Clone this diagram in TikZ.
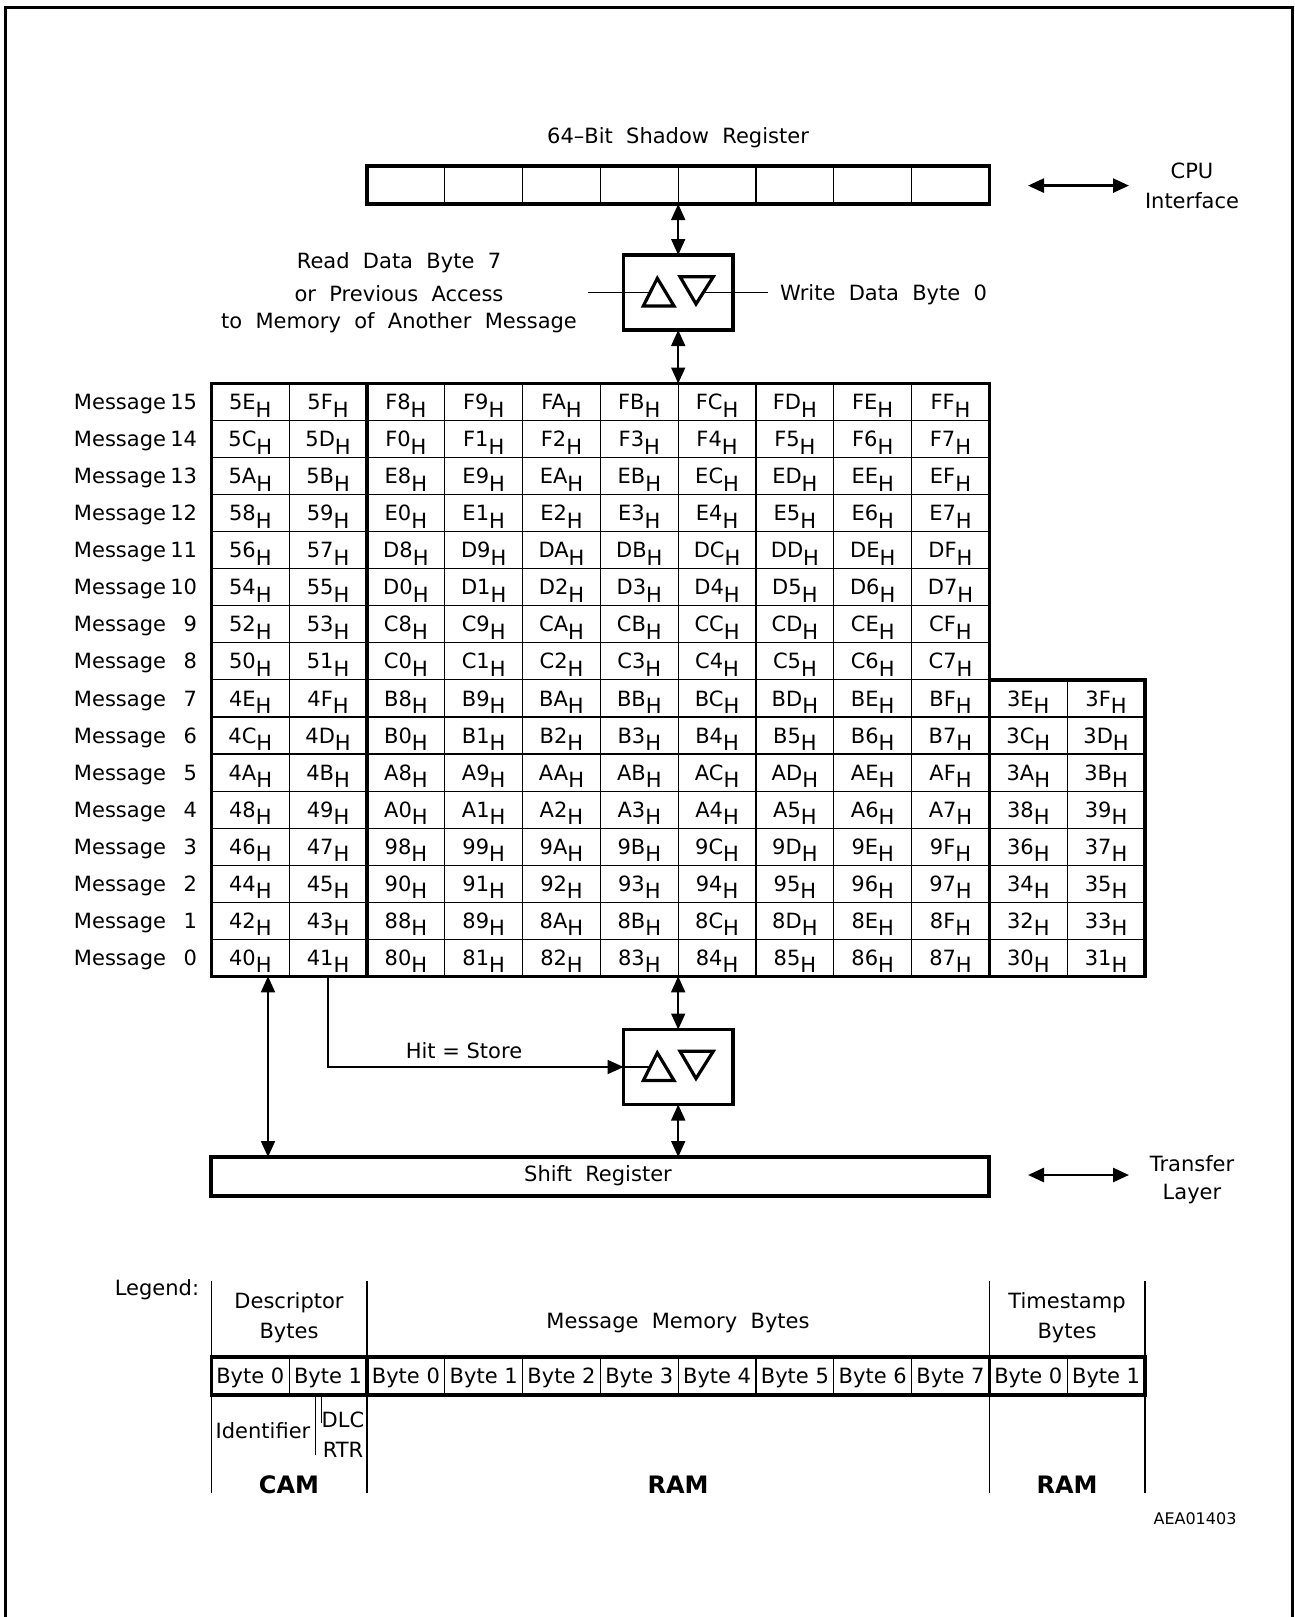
\documentclass[tikz,border=0pt]{standalone}
\usepackage{fontspec}
\setmainfont{DejaVu Sans}
\usetikzlibrary{arrows.meta}
\newcommand\Hsb{\raisebox{-3.8pt}{H}}
\begin{document}
\begin{tikzpicture}[x=0.5pt,y=-0.5pt, font=\fontsize{10.5}{12}\selectfont,
  txt/.style={inner sep=0pt, outer sep=0pt, anchor=base},
  thinln/.style={line width=0.55pt},
  thickln/.style={line width=1.8pt},
  tip/.tip={Triangle[width=7pt,length=8pt]},
  arr/.style={line width=0.9pt, tip-tip},
  onearr/.style={line width=0.9pt, -tip},
  tbox/.style={draw, line width=1.8pt, inner sep=0pt, outer sep=0pt, minimum width=54.65pt, minimum height=37.5pt},
  tri/.style={line width=1.6pt, line join=miter}]

\useasboundingbox (0,0) rectangle (1295,1617);
\draw[line width=1.2pt] (5.5,1625) -- (5.5,7.5) -- (1292.5,7.5) -- (1292.5,1625);

% ---------- Shadow register ----------
\foreach \k in {3,...,9} \draw[thinln] ({211.4+77.8*\k},166) -- ({211.4+77.8*\k},204);
\node[draw, line width=1.8pt, inner sep=0pt, outer sep=0pt, minimum width=311.2pt, minimum height=19pt] (sr) at (678.2,185) {};
\node[txt] (srl) at (678,143.5) {64\textendash Bit~~Shadow~~Register};

\coordinate (cpuA) at (1028,185.6);
\coordinate (cpuB) at (1129,185.6);
\draw[arr, line width=1.3pt] (cpuA) -- (cpuB);
\node[txt] (cpu1) at (1192,178.5) {CPU};
\node[txt] (cpu2) at (1192,208.5) {Interface};

% ---------- upper transfer box ----------
\node[tbox] (t1) at (678.2,292.5) {};
\coordinate (rdL) at (588,292.5);
\coordinate (wrR) at (768,292.5);
\draw[line width=0.8pt] (rdL) -- ([shift={(-28.1,0)}]t1.center);
\draw[line width=0.8pt] ([shift={(25.1,0)}]t1.center) -- (wrR);
\draw[tri] ([shift={(-20.9,-14.2)}]t1.center) -- ([shift={(-34.9,13.5)}]t1.center) -- ([shift={(-4.2,13.5)}]t1.center) -- cycle;
\draw[tri] ([shift={(1.8,-15.8)}]t1.center) -- ([shift={(35.1,-15.8)}]t1.center) -- ([shift={(17.8,11.5)}]t1.center) -- cycle;
\node[txt] (rd1) at (399,268) {Read~~Data~~Byte~~7};
\node[txt] (rd2) at (399,301) {or~~Previous~~Access};
\node[txt] (rd3) at (399,328) {to~~Memory~~of~~Another~~Message};
\node[txt, anchor=base west] (wr) at (780,300.5) {Write~~Data~~Byte~~0};

\coordinate (gtop) at (678.2,383.5);
\draw[arr] (sr.south) -- (t1.north);
\draw[arr] (t1.south) -- (gtop);

% ---------- memory grid ----------
\foreach \j in {1,...,15} \draw[thinln] (211.4,{383.5+37.05*\j}) -- (989.4,{383.5+37.05*\j});
\foreach \j in {9,...,15} \draw[thinln] (989.4,{383.5+37.05*\j}) -- (1145,{383.5+37.05*\j});
\foreach \k in {1,3,4,5,6,7,8,9} \draw[thinln] ({211.4+77.8*\k},383.5) -- ({211.4+77.8*\k},976.3);
\draw[thinln] (1067.2,679.9) -- (1067.2,976.3);
\draw[thickln] (211.4,383.5) rectangle (989.4,976.3);
\draw[thickln] (989.4,679.9) rectangle (1145,976.3);
\draw[thickln] (367,383.5) -- (367,976.3);

\foreach \j in {0,...,15} {
  \pgfmathtruncatemacro\m{15-\j}
  \pgfmathsetmacro\by{383.5+37.05*\j+18.5+7.6}
  \node[txt, anchor=base east] (mw\m) at (166,\by) {Message};
  \node[txt, anchor=base east] (mn\m) at (197,\by) {\m};
  \foreach \k in {0,1} {
    \pgfmathtruncatemacro\v{64+2*\m+\k}
    \pgfmathparse{Hex(\v)}\edef\hx{\pgfmathresult}
    \node[txt] (c\m-\k) at ({211.4+77.8*(\k+0.5)},\by) {\hx\Hsb};
  }
  \foreach \k in {2,...,9} {
    \pgfmathtruncatemacro\v{128+8*\m+\k-2}
    \pgfmathparse{Hex(\v)}\edef\hx{\pgfmathresult}
    \node[txt] (c\m-\k) at ({211.4+77.8*(\k+0.5)},\by) {\hx\Hsb};
  }
  \ifnum\m<8
  \foreach \k in {10,11} {
    \pgfmathtruncatemacro\v{48+2*\m+\k-10}
    \pgfmathparse{Hex(\v)}\edef\hx{\pgfmathresult}
    \node[txt] (c\m-\k) at ({211.4+77.8*(\k+0.5)},\by) {\hx\Hsb};
  }
  \fi
}

% ---------- lower transfer box & shift register ----------
\node[tbox] (t2) at (678.2,1067) {};
\draw[tri] ([shift={(-20.9,-14.2)}]t2.center) -- ([shift={(-34.9,13.5)}]t2.center) -- ([shift={(-4.2,13.5)}]t2.center) -- cycle;
\draw[tri] ([shift={(1.8,-15.8)}]t2.center) -- ([shift={(35.1,-15.8)}]t2.center) -- ([shift={(17.8,11.5)}]t2.center) -- cycle;
\node[draw, line width=1.8pt, inner sep=0pt, outer sep=0pt, minimum width=389pt, minimum height=19.5pt] (sh) at (600.2,1176.5) {};
\node[txt] (shl) at (598,1181.5) {Shift~~Register};

\coordinate (gbot) at (678.2,976.3);
\coordinate (gbl) at (268,976.3);
\coordinate (ghit) at (328,976.3);
\draw[arr] (gbot) -- (t2.north);
\draw[arr] (t2.south) -- (t2.south |- sh.north);
\draw[arr] (gbl) -- (gbl |- sh.north);
\draw[onearr] (ghit) |- (t2.west);
\draw[line width=0.8pt] (t2.west) -- ([shift={(-28.1,0)}]t2.center);
\node[txt] (hit) at (464,1058) {Hit = Store};

\coordinate (trA) at (1028,1175);
\coordinate (trB) at (1129,1175);
\draw[arr, line width=1.3pt] (trA) -- (trB);
\node[txt] (tr1) at (1192,1171.5) {Transfer};
\node[txt] (tr2) at (1192,1199.5) {Layer};

% ---------- legend ----------
\node[txt] (leg) at (157,1295.5) {Legend:};
\foreach \x in {211.4,367,989.4,1145} \draw[thinln] (\x,1281) -- (\x,1493);
\foreach \k in {1,3,4,5,6,7,8,9,11} \draw[thinln] ({211.4+77.8*\k},1357) -- ({211.4+77.8*\k},1395);
\draw[thickln] (211.4,1357) rectangle (1145,1395);
\draw[thickln] (367,1357) -- (367,1395);
\draw[thickln] (989.4,1357) -- (989.4,1395);
\foreach \k/\t in {0/0,1/1,2/0,3/1,4/2,5/3,6/4,7/5,8/6,9/7,10/0,11/1}
  \node[txt] (b\k) at ({211.4+77.8*(\k+0.5)},1383) {Byte \t};

\node[txt] (ds1) at (289,1308.5) {Descriptor};
\node[txt] (ds2) at (289,1338.5) {Bytes};
\node[txt] (mm) at (678,1328.5) {Message~~Memory~~Bytes};
\node[txt] (ts1) at (1067,1308.5) {Timestamp};
\node[txt] (ts2) at (1067,1338.5) {Bytes};

\draw[thinln] (315.5,1396) -- (315.5,1455);
\draw[thinln] (321.5,1396) -- (321.5,1423);
\node[txt] (idf) at (263,1438.5) {Identifier};
\node[txt] (dlc) at (343,1427.5) {DLC};
\node[txt] (rtr) at (343,1457.5) {RTR};

\node[txt, font=\fontsize{12}{14}\selectfont\bfseries] (cam) at (289,1493) {CAM};
\node[txt, font=\fontsize{12}{14}\selectfont\bfseries] (ram1) at (678,1493) {RAM};
\node[txt, font=\fontsize{12}{14}\selectfont\bfseries] (ram2) at (1067,1493) {RAM};
\node[txt, font=\fontsize{8}{10}\selectfont] (aea) at (1195,1524) {AEA01403};
\end{tikzpicture}
\end{document}
